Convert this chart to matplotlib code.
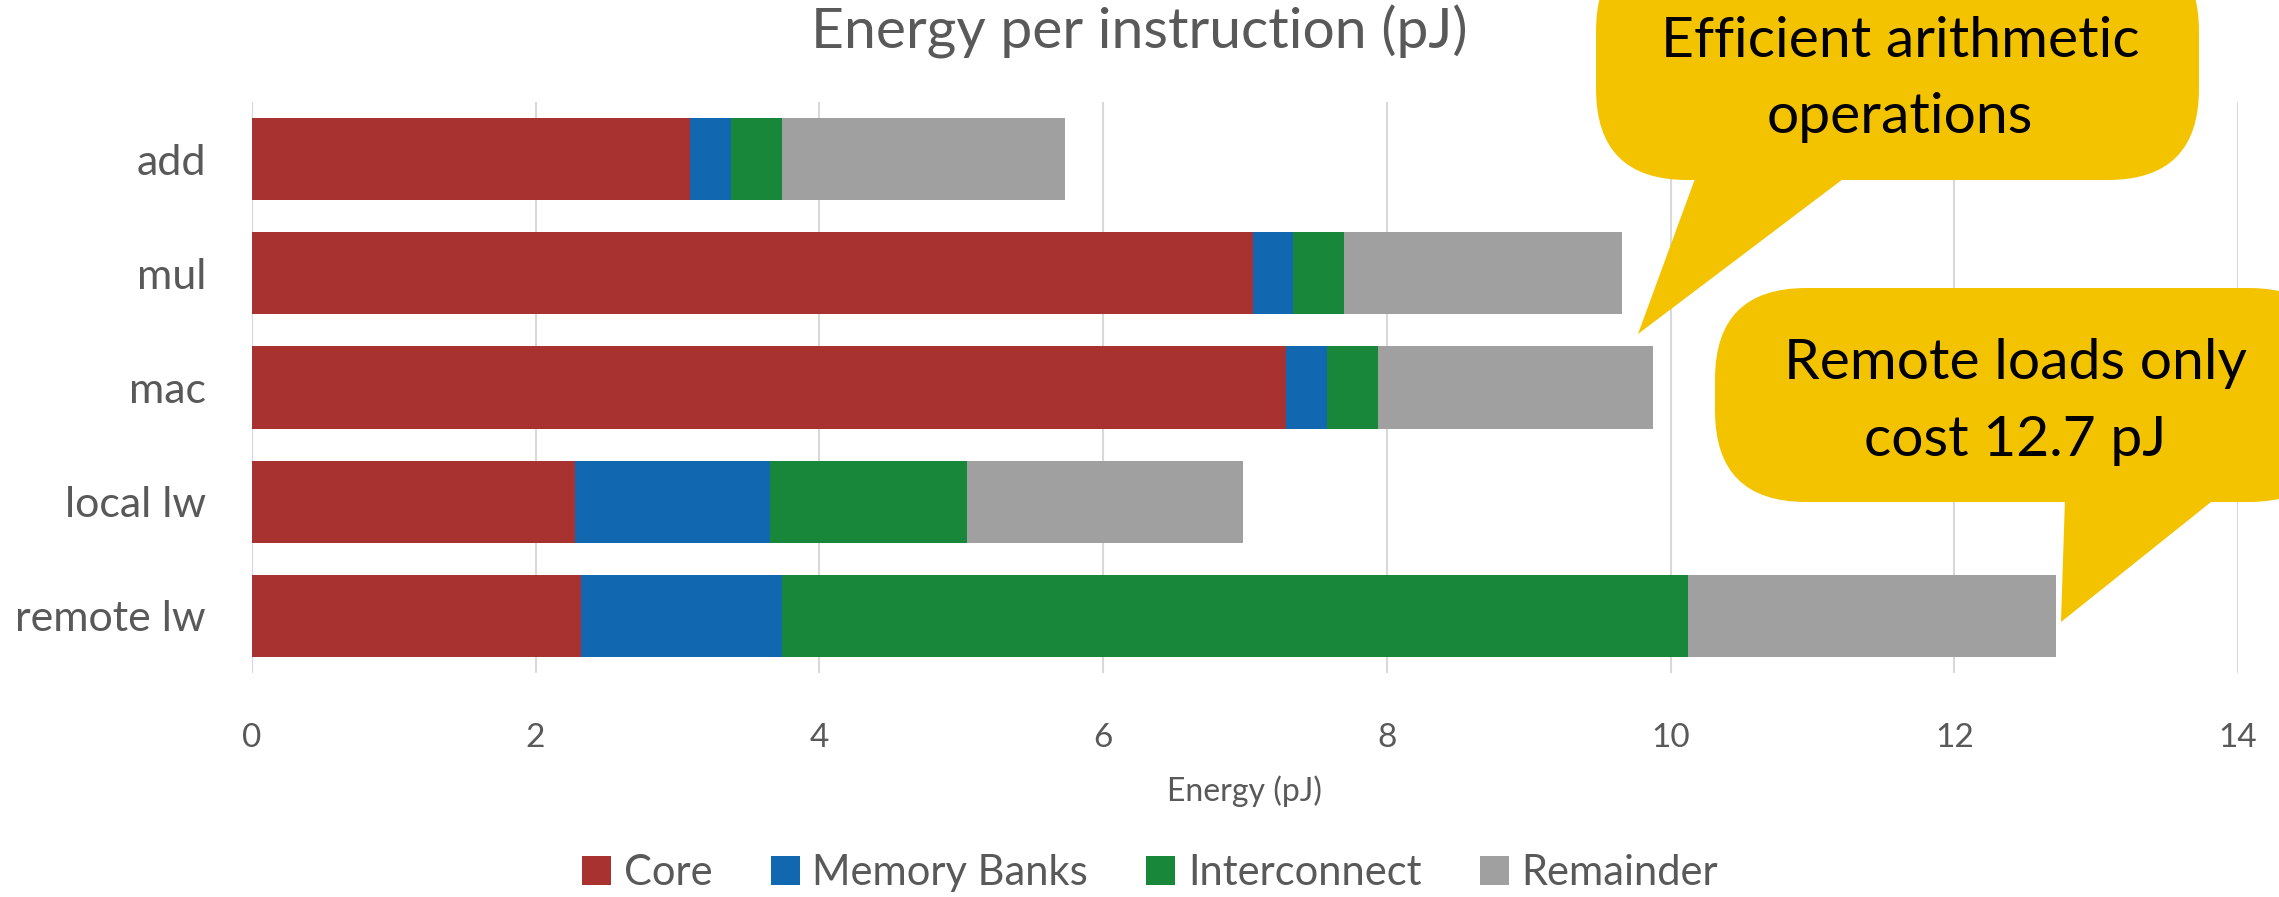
import numpy as np
import matplotlib
matplotlib.use("Agg")
import matplotlib.pyplot as plt
from matplotlib.patches import FancyBboxPatch, Polygon, Patch

plt.rcParams['font.family'] = ['Lato', 'DejaVu Sans']

# energy breakdown per instruction (pJ)
instructions = ['add', 'mul', 'mac', 'local lw', 'remote lw']
core = [3.09, 7.06, 7.29, 2.28, 2.32]
memory_banks = [0.29, 0.28, 0.29, 1.37, 1.42]
interconnect = [0.36, 0.36, 0.36, 1.39, 6.38]
remainder = [1.99, 1.96, 1.94, 1.95, 2.60]

series_names = ['Core', 'Memory Banks', 'Interconnect', 'Remainder']
series_colors = ['#A8322F', '#1268B0', '#18873A', '#A0A0A0']
text_grey = '#595959'
callout_yellow = '#F3C300'

W, H = 2279, 897
fig = plt.figure(figsize=(W / 100, H / 100), dpi=100)
ax = fig.add_axes([251.8 / W, 1 - 673 / H, (2238 - 251.8) / W, (673 - 102) / H])

y = np.arange(len(instructions))
left = np.zeros(len(instructions))
for name, vals, col in zip(series_names, [core, memory_banks, interconnect, remainder], series_colors):
    ax.barh(y, vals, height=0.72, left=left, color=col, label=name, zorder=3)
    left += np.array(vals)

ax.set_xlim(0, 14)
ax.set_ylim(len(instructions) - 0.5, -0.5)
ax.set_xticks(np.arange(0, 15, 2))
ax.set_yticks(y)
ax.set_yticklabels(instructions, fontsize=31, color=text_grey)
ax.tick_params(axis='x', labelsize=24, colors=text_grey, length=0, pad=36)
ax.tick_params(axis='y', length=0, pad=33)
ax.grid(axis='x', color='#D9D9D9', linewidth=1.5, zorder=0)
for s in ax.spines.values():
    s.set_visible(False)

ax.set_xlabel('Energy (pJ)', fontsize=23, color=text_grey, labelpad=16)
fig.text(0.5, 1 - 32 / H, 'Energy per instruction (pJ)', ha='center', va='center',
         fontsize=41, color=text_grey)

handles = [Patch(facecolor=c, label=n) for n, c in zip(series_names, series_colors)]
fig.legend(handles=handles, loc='center', bbox_to_anchor=(1150 / W, 1 - 873 / H), ncol=4,
           frameon=False, fontsize=30, labelcolor=text_grey, handlelength=0.7,
           handleheight=0.7, handletextpad=0.3, columnspacing=1.4)


def fx(px):
    return px / W


def fy(py):
    return 1 - py / H


def callout(x0, y0, x1, y1, pointer, lines, cx, baselines):
    box = FancyBboxPatch((fx(x0), fy(y1)), fx(x1 - x0), (y1 - y0) / H,
                         boxstyle='round,pad=0,rounding_size=0.04',
                         mutation_aspect=W / H,
                         transform=fig.transFigure, facecolor=callout_yellow,
                         edgecolor='none', zorder=10)
    fig.patches.append(box)
    tri = Polygon([(fx(px), fy(py)) for px, py in pointer], closed=True,
                  transform=fig.transFigure, facecolor=callout_yellow,
                  edgecolor='none', zorder=10)
    fig.patches.append(tri)
    for txt, b in zip(lines, baselines):
        fig.text(fx(cx), fy(b), txt, ha='center', va='baseline', fontsize=41,
                 color='black', zorder=11)


callout(1596, -60, 2199, 180, [(1696, 176), (1847, 176), (1638, 334)],
        ['Efficient arithmetic', 'operations'], 1900, [57, 133])
callout(1715, 288, 2340, 502, [(2065, 498), (2216, 498), (2061, 622)],
        ['Remote loads only', 'cost 12.7 pJ'], 2015, [379, 456])

fig.savefig('out.png', dpi=100)
